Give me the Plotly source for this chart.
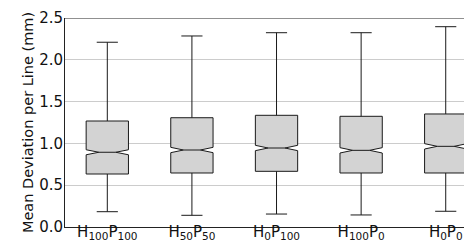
import plotly.graph_objects as go

categories = ["H<sub>100</sub>P<sub>100</sub>", "H<sub>50</sub>P<sub>50</sub>",
              "H<sub>0</sub>P<sub>100</sub>", "H<sub>100</sub>P<sub>0</sub>",
              "H<sub>0</sub>P<sub>0</sub>"]
positions = [1, 2, 3, 4, 5]
lower_whisker = [0.183, 0.140, 0.155, 0.144, 0.188]
q1_values = [0.634, 0.646, 0.666, 0.646, 0.646]
median_values = [0.894, 0.921, 0.945, 0.917, 0.965]
q3_values = [1.268, 1.307, 1.336, 1.324, 1.352]
upper_whisker = [2.210, 2.285, 2.324, 2.324, 2.396]
notch_spans = [0.030, 0.032, 0.032, 0.032, 0.032]
y_ticks = [0.0, 0.5, 1.0, 1.5, 2.0, 2.5]

fig = go.Figure()
fig.add_trace(go.Box(
    x=positions,
    q1=q1_values,
    median=median_values,
    q3=q3_values,
    lowerfence=lower_whisker,
    upperfence=upper_whisker,
    notched=True,
    notchspan=notch_spans,
    notchwidth=0.3,
    width=0.5,
    whiskerwidth=0.5,
    fillcolor="#d3d3d3",
    line=dict(color="#1a1a1a", width=1),
    boxpoints=False,
    showlegend=False,
    hoverinfo="skip",
))

fig.add_shape(type="line", xref="paper", yref="y", x0=0, x1=1, y0=2.5, y1=2.5,
              line=dict(color="#222222", width=1), layer="above")

fig.update_layout(
    width=472, height=244,
    margin=dict(l=57, r=0, t=10, b=25),
    plot_bgcolor="white", paper_bgcolor="white",
    font=dict(family="DejaVu Sans", size=15, color="#111111"),
    xaxis=dict(
        range=[0.5, 5.405],
        tickvals=positions, ticktext=categories,
        showgrid=False, zeroline=False,
        showline=True, linecolor="#222222", linewidth=1,
        ticks="", ticklen=0, tickfont=dict(size=15),
        ticklabelstandoff=-9,
    ),
    yaxis=dict(
        range=[0, 2.5],
        tickvals=y_ticks, ticktext=[f"{v:.1f}" for v in y_ticks],
        showgrid=True, gridcolor="#cccccc", gridwidth=1,
        zeroline=False,
        showline=True, linecolor="#222222", linewidth=1,
        ticks="", ticklen=0, tickfont=dict(size=15),
        ticklabelstandoff=-2,
        title=dict(text="Mean Deviation per Line (mm)", font=dict(size=14.5), standoff=2),
    ),
)

fig.write_html("out.html")
